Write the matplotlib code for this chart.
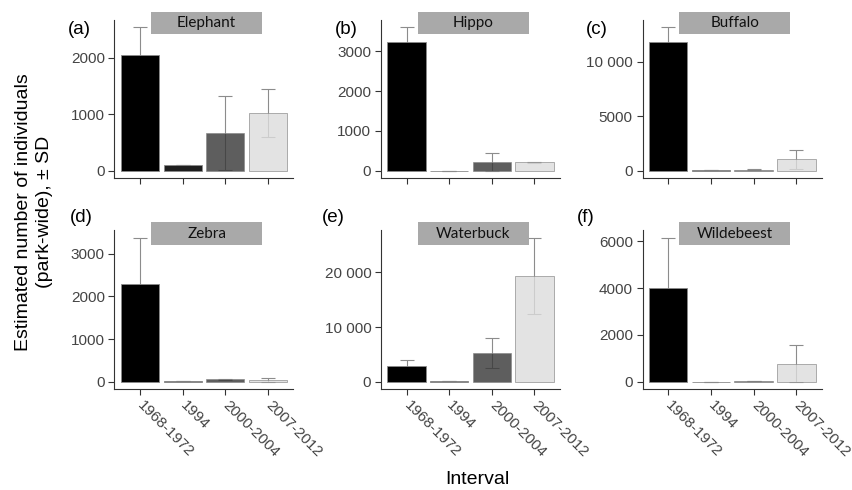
import numpy as np
import matplotlib
matplotlib.use("Agg")
import matplotlib.pyplot as plt
from matplotlib.patches import Rectangle
from matplotlib.ticker import FuncFormatter

intervals = ["1968-1972", "1994", "2000-2004", "2007-2012"]
species = ["Elephant", "Hippo", "Buffalo", "Zebra", "Waterbuck", "Wildebeest"]
tags = ["(a)", "(b)", "(c)", "(d)", "(e)", "(f)"]

elephant_mean = [2050, 110, 670, 1025]
elephant_sd = [495, 0, 650, 425]
hippo_mean = [3230, 5, 225, 218]
hippo_sd = [375, 0, 225, 15]
buffalo_mean = [11820, 30, 100, 1040]
buffalo_sd = [1370, 0, 60, 840]
zebra_mean = [2290, 10, 56, 40]
zebra_sd = [1080, 0, 20, 45]
waterbuck_mean = [2970, 150, 5280, 19330]
waterbuck_sd = [930, 0, 2700, 6970]
wildebeest_mean = [4020, 10, 20, 760]
wildebeest_sd = [2130, 0, 0, 790]

means = [elephant_mean, hippo_mean, buffalo_mean, zebra_mean, waterbuck_mean, wildebeest_mean]
sds = [elephant_sd, hippo_sd, buffalo_sd, zebra_sd, waterbuck_sd, wildebeest_sd]
yticks = [[0, 1000, 2000], [0, 1000, 2000, 3000], [0, 5000, 10000],
          [0, 1000, 2000, 3000], [0, 10000, 20000], [0, 2000, 4000, 6000]]

# bars are slightly see-through so the error bar under them shows in the
# lighter ones; the colours are pre-darkened to land on the reference greys
bar_colors = ["#000000", "#1e1e1e", "#363636", "#dddddd"]
bar_alpha = [1.0, 1.0, 0.8, 0.8]
txt_grey = "#444444"

plt.rcParams["font.family"] = ["Liberation Sans", "DejaVu Sans"]

W, H = 853, 490
fig = plt.figure(figsize=(W / 100, H / 100), dpi=100)

# axes boxes in pixels: left, top, right, bottom
lefts = [114.5, 381, 642.5]
rights = [293.5, 560, 822]
tops = [20, 230.5]
bottoms = [178, 389]
tag_xy = [(68, 30), (335, 30), (586, 30), (70, 218), (322, 218), (577, 218)]


def fmt(v, _):
    v = int(round(v))
    if abs(v) >= 10000:
        return f"{v:,}".replace(",", " ")
    return str(v)


for i, name in enumerate(species):
    r, c = divmod(i, 3)
    l, rt, t, b = lefts[c], rights[c], tops[r], bottoms[r]
    ax = fig.add_axes([l / W, 1 - b / H, (rt - l) / W, (b - t) / H])
    x = np.arange(1, 5)
    m = np.array(means[i], float)
    s = np.array(sds[i], float)
    ax.errorbar(x, m, yerr=s, fmt="none", ecolor="#8c8c8c", elinewidth=0.8,
                capsize=5, capthick=0.8, zorder=1)
    for xi, mi, col, a in zip(x, m, bar_colors, bar_alpha):
        ax.bar(xi, mi, width=0.9, color=col, alpha=a, edgecolor="#8a8a8a",
               linewidth=0.6, zorder=2)
    top = (m + s).max()
    ax.set_xlim(0.4, 4.6)
    ax.set_ylim(-0.05 * top, 1.05 * top)
    ax.set_yticks(yticks[i])
    ax.yaxis.set_major_formatter(FuncFormatter(fmt))
    ax.set_xticks(x)
    if r == 1:
        ax.set_xticklabels(intervals, rotation=-45, ha="left", va="center",
                           rotation_mode="anchor")
    else:
        ax.set_xticklabels([])
    for sp in ["top", "right"]:
        ax.spines[sp].set_visible(False)
    for sp in ["left", "bottom"]:
        ax.spines[sp].set_color("#333333")
        ax.spines[sp].set_linewidth(0.8)
    ax.tick_params(length=4, width=0.8, color="#333333", labelsize=11,
                   labelcolor=txt_grey, pad=3)
    ax.tick_params(axis="x", pad=6)

    # species label box
    bw, bh = 111 / (rt - l), 22.5 / (b - t)
    bx, by = 0.515 - bw / 2, 1 + 8 / (b - t) - bh
    ax.add_patch(Rectangle((bx, by), bw, bh, transform=ax.transAxes,
                           facecolor="#a9a9a9", edgecolor="none",
                           clip_on=False, zorder=4))
    ax.text(0.515, by + bh / 2, name, transform=ax.transAxes, ha="center",
            va="center", fontsize=11, family=["Lato", "DejaVu Sans"],
            color="#111111", zorder=5)

    tx, ty = tag_xy[i]
    fig.text(tx / W, 1 - ty / H, tags[i], ha="left", va="center", fontsize=13.5)

fig.text(34 / W, 1 - 212 / H,
         "Estimated number of individuals\n(park-wide), \u00b1 SD",
         rotation=90, ha="center", va="center", fontsize=14,
         linespacing=1.3)
fig.text(477 / W, 1 - 479 / H, "Interval", ha="center", va="center",
         fontsize=14)

fig.savefig("out.png", dpi=100)
